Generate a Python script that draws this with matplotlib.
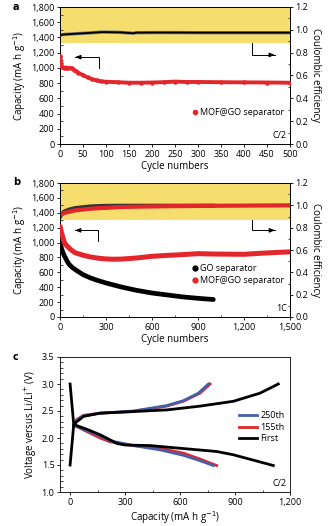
import matplotlib
matplotlib.use("Agg")
import matplotlib.pyplot as plt
from matplotlib.lines import Line2D
from matplotlib.ticker import MultipleLocator, FuncFormatter

plt.rcParams['font.family'] = ['Open Sans', 'DejaVu Sans']
plt.rcParams['font.size'] = 6.5

# ---------------- data ----------------
# Panel a (C/2, MOF@GO separator)
a_cycles = [1, 2, 4, 8, 12, 16, 20, 25, 30, 35, 40, 50, 60, 70, 80, 90, 100, 125, 150, 175, 200,
            225, 250, 275, 300, 350, 400, 450, 500]
a_capacity = [1150, 1060, 1010, 1000, 1005, 1000, 1000, 995, 975, 955, 935, 905, 875, 850, 835, 822, 818,
              812, 805, 805, 808, 812, 820, 815, 815, 812, 810, 808, 805]
a_ce_cycles = [1, 10, 30, 60, 90, 100, 130, 160, 165, 200, 250, 300, 350, 400, 450, 500]
a_ce = [0.955, 0.960, 0.965, 0.972, 0.980, 0.980, 0.978, 0.970, 0.975, 0.976, 0.976, 0.975, 0.975, 0.975, 0.975, 0.975]

# Panel b (1C)
b_red_cycles = [1, 10, 20, 30, 45, 60, 80, 100, 150, 200, 250, 300, 350, 400, 450, 500, 600, 700, 800,
                900, 1000, 1100, 1200, 1300, 1400, 1500]
b_red_capacity = [1215, 1130, 1060, 995, 955, 925, 890, 862, 830, 806, 790, 780, 776, 778, 785, 793, 815,
                  828, 838, 851, 846, 844, 842, 855, 866, 875]
b_black_cycles = [1, 10, 20, 30, 45, 60, 80, 100, 150, 200, 250, 300, 400, 500, 600, 700, 800, 900, 1000]
b_black_capacity = [1000, 920, 860, 815, 755, 705, 665, 636, 569, 524, 488, 457, 403, 358, 322, 296, 270, 251, 235]
b_red_ce_cycles = [1, 25, 50, 100, 200, 300, 400, 500, 700, 1000, 1250, 1500]
b_red_ce = [0.915, 0.930, 0.940, 0.955, 0.970, 0.978, 0.985, 0.988, 0.992, 0.996, 0.998, 1.000]
b_black_ce_cycles = [1, 15, 30, 60, 100, 200, 300, 400, 600, 800, 1000]
b_black_ce = [0.900, 0.930, 0.945, 0.962, 0.975, 0.990, 0.995, 0.996, 0.996, 0.996, 0.996]

# Panel c (voltage profiles)
first_dis_cap = [0, 20, 60, 100, 164, 255, 300, 436, 600, 800, 890, 1000, 1109]
first_dis_v = [3.00, 2.25, 2.20, 2.15, 2.06, 1.90, 1.87, 1.86, 1.81, 1.75, 1.69, 1.59, 1.49]
first_chg_cap = [0, 20, 36, 73, 164, 345, 527, 709, 891, 1036, 1136]
first_chg_v = [1.50, 2.25, 2.30, 2.40, 2.46, 2.49, 2.52, 2.59, 2.68, 2.83, 3.00]
c155_dis_cap = [20, 73, 164, 218, 345, 491, 618, 709, 800]
c155_dis_v = [2.24, 2.15, 2.00, 1.93, 1.86, 1.81, 1.72, 1.61, 1.49]
c155_chg_cap = [20, 36, 73, 164, 345, 527, 618, 709, 764]
c155_chg_v = [2.22, 2.34, 2.42, 2.46, 2.49, 2.59, 2.68, 2.83, 3.00]
c250_dis_cap = [20, 73, 164, 218, 345, 491, 618, 709, 782]
c250_dis_v = [2.24, 2.16, 2.04, 1.95, 1.86, 1.78, 1.68, 1.58, 1.49]
c250_chg_cap = [20, 36, 73, 164, 345, 527, 618, 700, 755]
c250_chg_v = [2.22, 2.33, 2.41, 2.46, 2.50, 2.60, 2.69, 2.83, 3.00]

RED = '#E3262B'
BLUE = '#4560A8'
YELLOW = '#F6DE6E'

thousands = FuncFormatter(lambda v, p: f"{int(v):,}")
one_dec = FuncFormatter(lambda v, p: f"{v:.1f}")

fig = plt.figure(figsize=(3.30, 5.26), dpi=100)
W, H = 330, 526

def add_ax(l, t, r, b):
    return fig.add_axes([l / W, 1 - b / H, (r - l) / W, (b - t) / H])

def style(ax):
    ax.tick_params(which='major', direction='out', length=2.5, width=0.6, pad=1.5, labelsize=6.5)
    ax.tick_params(which='minor', direction='in', length=1.8, width=0.5)
    for s in ax.spines.values():
        s.set_linewidth(0.6)

def l_arrow(ax, corner_x, corner_y, tip_x, end_y):
    # L-shaped pointer: vertical from (corner_x, end_y) to corner, horizontal to tip with arrowhead
    ax.plot([corner_x, corner_x, tip_x], [end_y, corner_y, corner_y], color='black', lw=0.7,
            solid_joinstyle='miter', zorder=5)
    dx = (tip_x - corner_x) * 0.15
    ax.annotate('', xy=(tip_x, corner_y), xytext=(tip_x - dx, corner_y),
                arrowprops=dict(arrowstyle='-|>,head_length=0.5,head_width=0.2', color='black',
                                lw=0.7, shrinkA=0, shrinkB=0), zorder=5)

# ---------------- panel a ----------------
axa = add_ax(60, 7, 290, 144)
axa2 = axa.twinx()
axa2.axhspan(0.885, 1.2, color=YELLOW, zorder=0, lw=0)
axa2.plot(a_ce_cycles, a_ce, color='#777777', lw=2.4, zorder=2)
axa2.plot(a_ce_cycles, a_ce, color='black', lw=1.3, zorder=3)
axa2.set_ylim(0, 1.2)
axa2.yaxis.set_major_locator(MultipleLocator(0.2))
axa2.yaxis.set_minor_locator(MultipleLocator(0.1))
axa2.yaxis.set_major_formatter(one_dec)
axa2.set_ylabel('Coulombic efficiency', rotation=270, labelpad=9, fontsize=7)
axa.set_zorder(axa2.get_zorder() + 1)
axa.patch.set_visible(False)
axa.plot(a_cycles, a_capacity, color=RED, lw=2.8, solid_capstyle='round', zorder=3)
axa.plot(a_cycles, a_capacity, 'o', color=RED, ms=2.2, zorder=3)
axa.set_xlim(0, 500)
axa.set_ylim(0, 1800)
axa.xaxis.set_major_locator(MultipleLocator(50))
axa.yaxis.set_major_locator(MultipleLocator(200))
axa.yaxis.set_minor_locator(MultipleLocator(100))
axa.yaxis.set_major_formatter(thousands)
axa.set_xlabel('Cycle numbers', labelpad=2, fontsize=7)
axa.set_ylabel('Capacity (mA h g$^{-1}$)', labelpad=2, fontsize=7)
style(axa); style(axa2)
l_arrow(axa, 84, 1141, 33, 1000)
l_arrow(axa2, 418, 0.78, 467, 0.884)
axa.legend(handles=[Line2D([], [], ls='none', marker='o', color=RED, ms=3)],
           labels=['MOF@GO separator'], frameon=False, loc='lower right',
           bbox_to_anchor=(1.0, 0.16), handletextpad=0.1, handlelength=1.0, fontsize=6.5,
           borderaxespad=0.2)
axa.text(0.985, 0.03, 'C/2', transform=axa.transAxes, ha='right', va='bottom', fontsize=6.5)
fig.text(13 / W, 1 - 7 / H, 'a', fontweight='bold', fontsize=7, va='center', ha='left',
         family='DejaVu Sans')

# ---------------- panel b ----------------
axb = add_ax(60, 183, 290, 317)
axb2 = axb.twinx()
axb2.axhspan(0.866, 1.2, color=YELLOW, zorder=0, lw=0)
axb2.plot(b_black_ce_cycles, b_black_ce, color='#333333', lw=3.0, zorder=2)
axb2.plot(b_red_ce_cycles, b_red_ce, color=RED, lw=3.0, zorder=3)
axb2.set_ylim(0, 1.2)
axb2.yaxis.set_major_locator(MultipleLocator(0.2))
axb2.yaxis.set_minor_locator(MultipleLocator(0.1))
axb2.yaxis.set_major_formatter(one_dec)
axb2.set_ylabel('Coulombic efficiency', rotation=270, labelpad=9, fontsize=7)
axb.set_zorder(axb2.get_zorder() + 1)
axb.patch.set_visible(False)
axb.plot(b_black_cycles, b_black_capacity, color='black', lw=3.4, solid_capstyle='round', zorder=3)
axb.plot(b_red_cycles, b_red_capacity, color=RED, lw=3.6, solid_capstyle='round', zorder=4)
axb.set_xlim(0, 1500)
axb.set_ylim(0, 1800)
axb.xaxis.set_major_locator(MultipleLocator(300))
axb.xaxis.set_minor_locator(MultipleLocator(150))
axb.xaxis.set_major_formatter(thousands)
axb.yaxis.set_major_locator(MultipleLocator(200))
axb.yaxis.set_minor_locator(MultipleLocator(100))
axb.yaxis.set_major_formatter(thousands)
axb.set_xlabel('Cycle numbers', labelpad=2, fontsize=7)
axb.set_ylabel('Capacity (mA h g$^{-1}$)', labelpad=2, fontsize=7)
style(axb); style(axb2)
l_arrow(axb, 250, 1164, 98, 1025)
l_arrow(axb2, 1254, 0.776, 1402, 0.866)
axb.legend(handles=[Line2D([], [], ls='none', marker='o', color='black', ms=3.5),
                    Line2D([], [], ls='none', marker='o', color=RED, ms=3.5)],
           labels=['GO separator', 'MOF@GO separator'], frameon=False, loc='lower right',
           bbox_to_anchor=(1.0, 0.2), handletextpad=0.1, handlelength=1.0, fontsize=6.5,
           borderaxespad=0.2, labelspacing=0.3)
axb.text(0.985, 0.03, '1C', transform=axb.transAxes, ha='right', va='bottom', fontsize=6.5)
fig.text(13 / W, 1 - 182 / H, 'b', fontweight='bold', fontsize=7, va='center', ha='left',
         family='DejaVu Sans')

# ---------------- panel c ----------------
axc = add_ax(60, 357, 290, 492)
axc.plot(c250_chg_cap, c250_chg_v, color=BLUE, lw=2.0, zorder=3)
axc.plot(c250_dis_cap, c250_dis_v, color=BLUE, lw=2.0, zorder=3)
axc.plot(c155_chg_cap, c155_chg_v, color=RED, lw=2.0, zorder=2)
axc.plot(c155_dis_cap, c155_dis_v, color=RED, lw=2.0, zorder=2)
axc.plot(first_chg_cap, first_chg_v, color='black', lw=2.0, zorder=4)
axc.plot(first_dis_cap, first_dis_v, color='black', lw=2.0, zorder=4)
axc.set_xlim(-55, 1200)
axc.set_ylim(1.0, 3.5)
axc.xaxis.set_major_locator(MultipleLocator(300))
axc.xaxis.set_minor_locator(MultipleLocator(150))
axc.xaxis.set_major_formatter(thousands)
axc.yaxis.set_major_locator(MultipleLocator(0.5))
axc.yaxis.set_minor_locator(MultipleLocator(0.1))
axc.yaxis.set_major_formatter(one_dec)
axc.set_xlabel('Capacity (mA h g$^{-1}$)', labelpad=2, fontsize=7)
axc.set_ylabel('Voltage versus Li/Li$^{+}$ (V)', labelpad=2, fontsize=7)
style(axc)
axc.legend(handles=[Line2D([], [], color=BLUE, lw=2), Line2D([], [], color=RED, lw=2),
                    Line2D([], [], color='black', lw=2)],
           labels=['250th', '155th', 'First'], frameon=False, loc='center right',
           bbox_to_anchor=(1.0, 0.48), handletextpad=0.4, handlelength=2.0, fontsize=6.5,
           borderaxespad=0.2, labelspacing=0.3)
axc.text(0.985, 0.03, 'C/2', transform=axc.transAxes, ha='right', va='bottom', fontsize=6.5)
fig.text(13 / W, 1 - 357 / H, 'c', fontweight='bold', fontsize=7, va='center', ha='left',
         family='DejaVu Sans')

fig.savefig('out.png', dpi=100)
